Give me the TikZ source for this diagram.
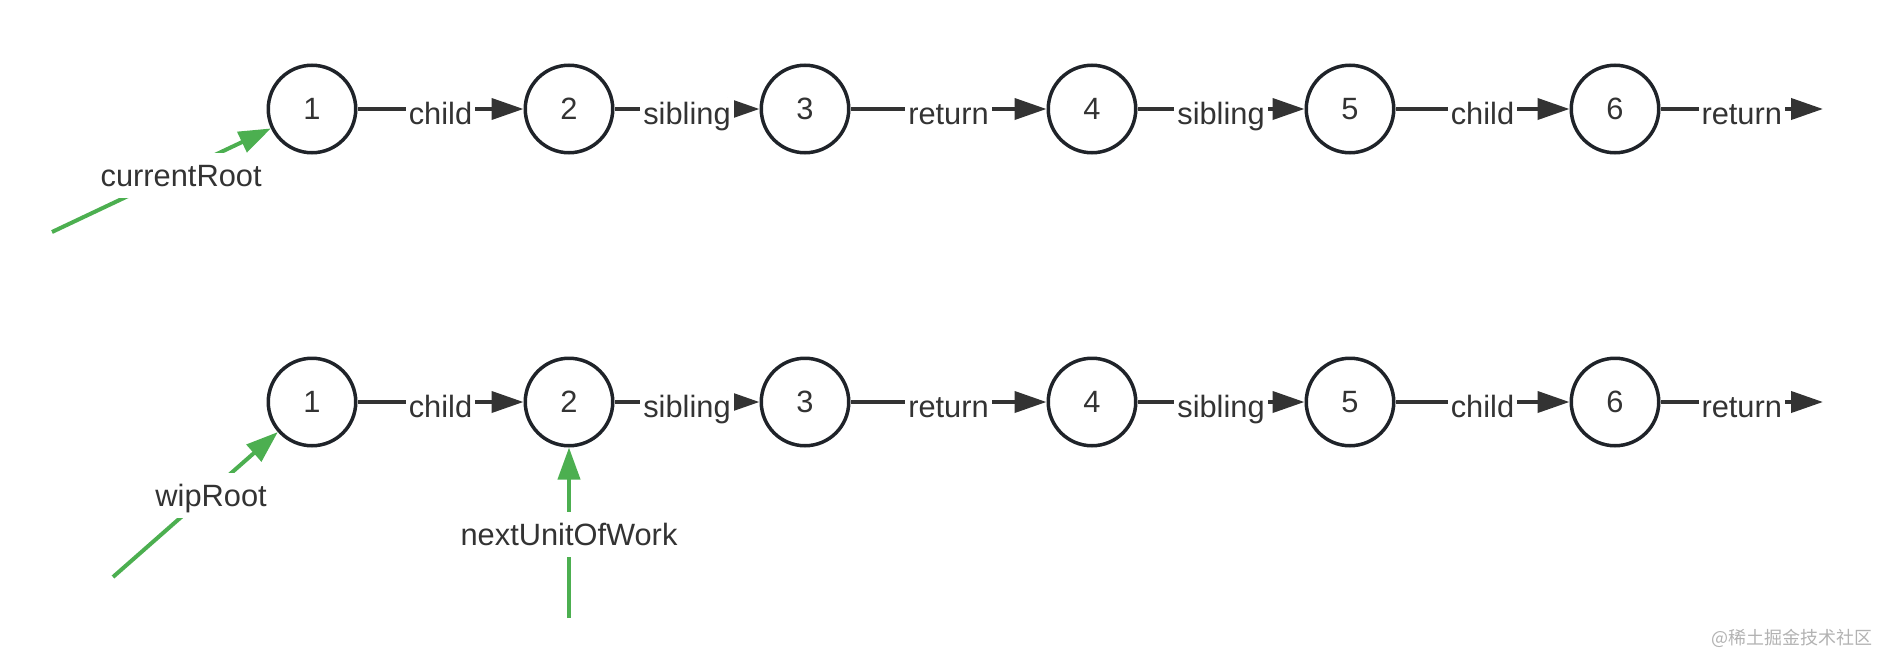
\documentclass[tikz,border=0pt]{standalone}
\usepackage{fontspec}
\setmainfont{Liberation Sans}
\newfontfamily\cjkfont{Noto Sans CJK SC}
\usetikzlibrary{arrows.meta}
\definecolor{nodeline}{HTML}{1F2329}
\definecolor{edgegray}{HTML}{333333}
\definecolor{ptrgreen}{HTML}{4CAF50}
\tikzset{
  listnode/.style={circle, draw=nodeline, line width=1.75pt, minimum size=43.75pt, inner sep=0pt, text=edgegray},
  link/.style={draw=edgegray, line width=2pt, -{Triangle[length=16pt,width=10.5pt]}},
  linklabel/.style={midway, fill=white, anchor=base, yshift=-7.5pt, text height=11pt, text depth=3.2pt, inner xsep=1.5pt, inner ysep=2pt, text=edgegray},
  pointer/.style={draw=ptrgreen, line width=2pt, -{Triangle[length=16pt,width=11pt]}},
  ptrlabel/.style={fill=white, yshift=-2.5pt, text height=11pt, text depth=0pt, inner xsep=1.5pt, inner ysep=5.75pt, text=edgegray}
}

\begin{document}
\begin{tikzpicture}[x=0.5pt, y=-0.5pt, font=\fontsize{15.4pt}{18pt}\selectfont]
		%%%%% frame %%%%%
		\useasboundingbox (0,0) rectangle (1880,664);
		
		%%%%% top row: currentRoot %%%%%
		\node[listnode] (t1) at (312,109) {1};
		\node[listnode] (t2) at (569,109) {2};
		\node[listnode] (t3) at (805,109) {3};
		\node[listnode] (t4) at (1092,109) {4};
		\node[listnode] (t5) at (1350,109) {5};
		\node[listnode] (t6) at (1615,109) {6};
		\coordinate (tend) at (1823,109);
		
		\draw[link] (t1) -- (t2) node[linklabel] {child};
		\draw[link] (t2) -- (t3) node[linklabel] {sibling};
		\draw[link] (t3) -- (t4) node[linklabel] {return};
		\draw[link] (t4) -- (t5) node[linklabel] {sibling};
		\draw[link] (t5) -- (t6) node[linklabel] {child};
		\draw[link] (t6) -- (tend) node[linklabel] {return};
		
		\coordinate (curstart) at (52,232);
		\draw[pointer] (curstart) -- (t1) node[ptrlabel, pos=0.59] (curlabel) {currentRoot};
		
		%%%%% bottom row: wipRoot %%%%%
		\node[listnode] (b1) at (312,402) {1};
		\node[listnode] (b2) at (569,402) {2};
		\node[listnode] (b3) at (805,402) {3};
		\node[listnode] (b4) at (1092,402) {4};
		\node[listnode] (b5) at (1350,402) {5};
		\node[listnode] (b6) at (1615,402) {6};
		\coordinate (bend) at (1823,402);
		
		\draw[link] (b1) -- (b2) node[linklabel] {child};
		\draw[link] (b2) -- (b3) node[linklabel] {sibling};
		\draw[link] (b3) -- (b4) node[linklabel] {return};
		\draw[link] (b4) -- (b5) node[linklabel] {sibling};
		\draw[link] (b5) -- (b6) node[linklabel] {child};
		\draw[link] (b6) -- (bend) node[linklabel] {return};
		
		\coordinate (wipstart) at (113,577);
		\draw[pointer] (wipstart) -- (b1) node[ptrlabel, pos=0.595] (wiplabel) {wipRoot};
		
		\coordinate (nextstart) at (569,618);
		\draw[pointer] (nextstart) -- (b2) node[ptrlabel, pos=0.5, yshift=1.5pt] (nextlabel) {nextUnitOfWork};
		
		%%%%% watermark %%%%%
		\node[anchor=east, inner sep=0pt, text=black!30, font=\cjkfont\fontsize{9pt}{11pt}\selectfont] (mark) at (1873,638) {@稀土掘金技术社区};
		
	\end{tikzpicture}
\end{document}
